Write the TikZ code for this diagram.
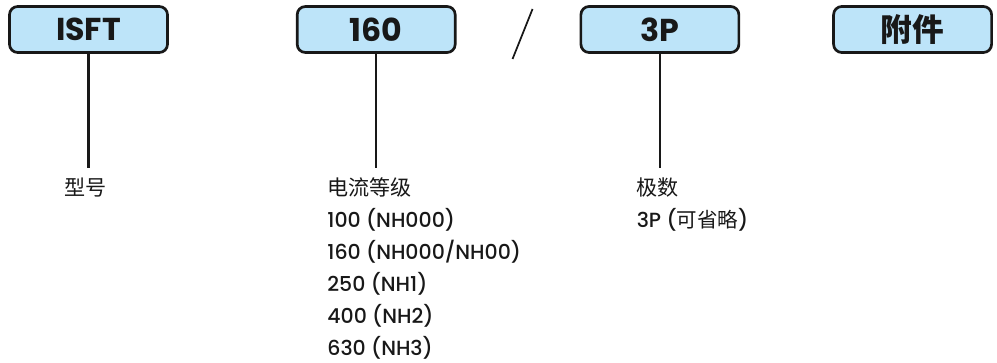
\documentclass[tikz,border=0pt]{standalone}
\usepackage{fontspec}
\setmainfont{Poppins}[UprightFont=* Medium, BoldFont=* Bold]
\newfontfamily\cjk{Noto Sans CJK SC}
\usetikzlibrary{positioning,calc}
\definecolor{cajaazul}{RGB}{189,228,249}
\definecolor{borde}{RGB}{24,24,24}
\tikzset{
  caja/.style={rectangle, draw=borde, fill=cajaazul, line width=2.3pt,
               minimum width=4.74cm, minimum height=1.38cm, rounded corners=7pt,
               text=borde, font=\fontsize{27}{31}\selectfont\bfseries},
  tallo/.style={draw=borde, line width=1.8pt},
  barra/.style={draw=borde, line width=1.5pt},
  titulo/.style={inner sep=0pt, anchor=base, text=borde,
                 font=\fontsize{18}{21}\selectfont\cjk},
  valor/.style={inner sep=0pt, anchor=base west, text=borde,
                font=\fontsize{17.5}{21}\selectfont}
}

\begin{document}
\begin{tikzpicture}
  \useasboundingbox (0,0) rectangle (29.91,-10.89);

  % Fila de cajas
  \node[caja] (isft) at (2.655,-0.885) {ISFT};
  \node[caja, right=3.81cm of isft] (corr) {160};
  \node[caja, right=3.69cm of corr] (polo) {3P};
  \node[caja, right=2.76cm of polo] (acce) {{\cjk 附件}};

  % Barra entre corriente y polos
  \coordinate[right=1.98cm of corr.east, yshift=-0.135cm] (barra);
  \coordinate (barra-a) at ($(barra)+(-0.3,-0.75)$);
  \coordinate (barra-b) at ($(barra)+(0.3,0.75)$);
  \draw[barra] (barra-a) -- (barra-b);

  % Tallos
  \coordinate[below=3.42cm of isft.south] (isft-t);
  \coordinate[below=3.42cm of corr.south] (corr-t);
  \coordinate[below=3.42cm of polo.south] (polo-t);
  \draw[tallo] (isft.south) -- (isft-t);
  \draw[tallo] (corr.south) -- (corr-t);
  \draw[tallo] (polo.south) -- (polo-t);

  % Textos de modelo
  \node[titulo] (tipo) at ($(isft-t)+(-0.09,-0.84)$) {型号};

  % Textos de corriente
  \node[titulo] (nivel) at ($(corr-t)+(-0.2,-0.84)$) {电流等级};
  \node[valor] (c1) at ($(nivel.base west)+(0,-0.955)$) {100 (NH000)};
  \node[valor] (c2) at ($(c1.base west)+(0,-0.955)$) {160 (NH000/NH00)};
  \node[valor] (c3) at ($(c2.base west)+(0,-0.955)$) {250 (NH1)};
  \node[valor] (c4) at ($(c3.base west)+(0,-0.955)$) {400 (NH2)};
  \node[valor] (c5) at ($(c4.base west)+(0,-0.955)$) {630 (NH3)};

  % Textos de polos
  \node[titulo] (nump) at ($(polo-t)+(-0.06,-0.84)$) {极数};
  \node[valor] (p1) at ($(nump.base west)+(0,-0.955)$) {3P ({\cjk 可省略})};
\end{tikzpicture}
\end{document}
